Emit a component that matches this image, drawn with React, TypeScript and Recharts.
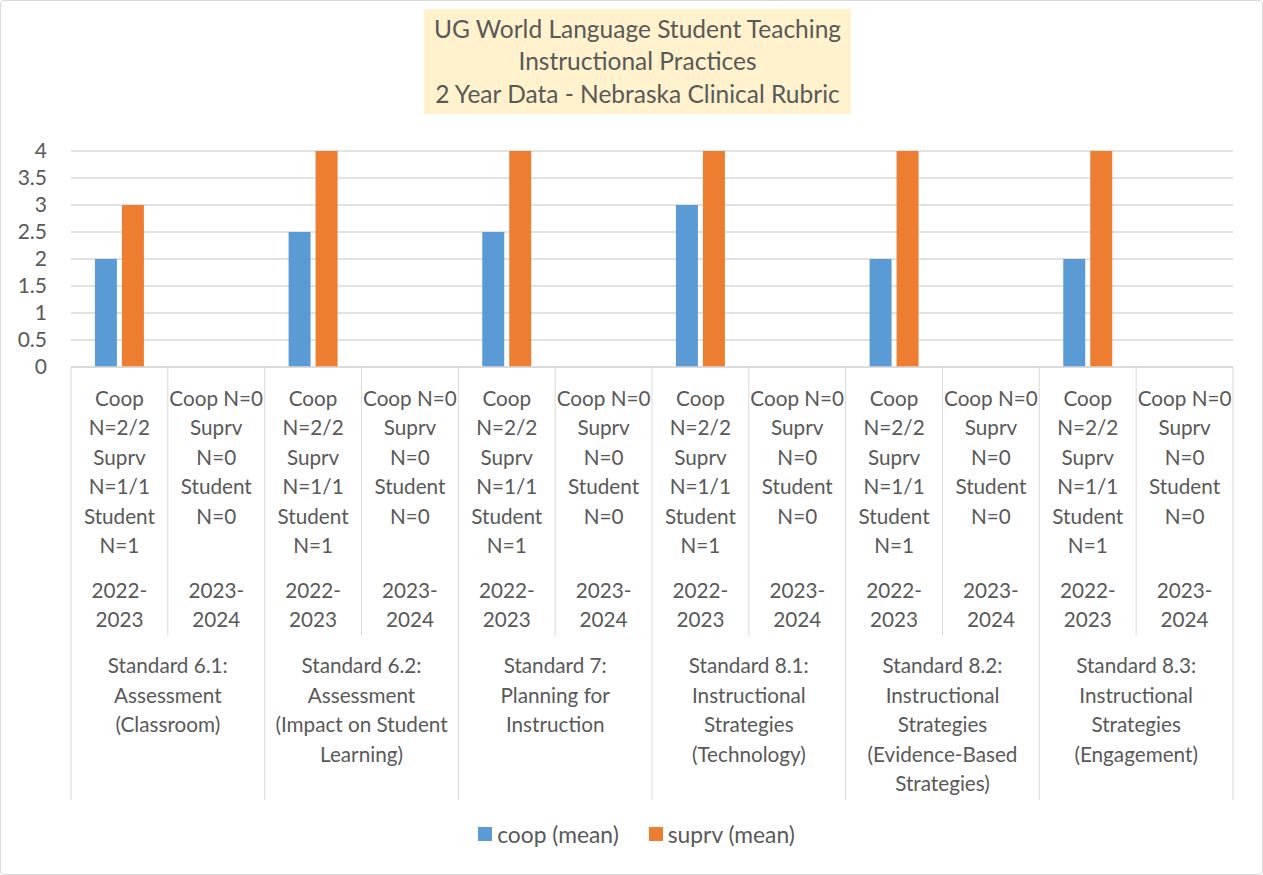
import { BarChart, Bar, XAxis, YAxis, CartesianGrid, Legend } from 'recharts';

const groups = [
  ['Standard 6.1:', 'Assessment', '(Classroom)'],
  ['Standard 6.2:', 'Assessment', '(Impact on Student', 'Learning)'],
  ['Standard 7:', 'Planning for', 'Instruction'],
  ['Standard 8.1:', 'Instructional', 'Strategies', '(Technology)'],
  ['Standard 8.2:', 'Instructional', 'Strategies', '(Evidence-Based', 'Strategies)'],
  ['Standard 8.3:', 'Instructional', 'Strategies', '(Engagement)'],
];
const years = [['2022-', '2023'], ['2023-', '2024']];
const counts = [
  ['Coop', 'N=2/2', 'Suprv', 'N=1/1', 'Student', 'N=1'],
  ['Coop N=0', 'Suprv', 'N=0', 'Student', 'N=0'],
];
const coopMean = [2, null, 2.5, null, 2.5, null, 3, null, 2, null, 2, null];
const suprvMean = [3, null, 4, null, 4, null, 4, null, 4, null, 4, null];
const yTicks = [0, 0.5, 1, 1.5, 2, 2.5, 3, 3.5, 4];

const data = coopMean.map((c, i) => ({
  name: `${groups[Math.floor(i / 2)][0]} ${years[i % 2].join('')}`,
  coop: c,
  suprv: suprvMean[i],
}));

const W = 1263;
const H = 875;
const PLOT_LEFT = 71;
const PLOT_RIGHT = 30;
const BAND = (W - PLOT_LEFT - PLOT_RIGHT) / data.length;
const FONT = 'Lato, "Open Sans", sans-serif';
const TEXT = '#595959';
const LINE = '#d9d9d9';
const TICK_SIZE = 20.7;

function CategoryTick(props: any) {
  const { x, y, index } = props;
  const yr = index % 2;
  const left = x - BAND / 2;
  const lines = counts[yr];
  return (
    <g>
      <line x1={left} y1={y} x2={left} y2={y + (yr === 0 ? 433 : 269)} stroke={LINE} />
      {index === data.length - 1 && (
        <line x1={left + BAND} y1={y} x2={left + BAND} y2={y + 433} stroke={LINE} />
      )}
      {lines.map((t, i) => (
        <text key={i} x={x} y={y + 31 + i * 29.4} textAnchor="middle" dominantBaseline="central"
          fill={TEXT} fontSize={TICK_SIZE} fontFamily={FONT}>{t}</text>
      ))}
      {years[yr].map((t, i) => (
        <text key={'y' + i} x={x} y={y + 223 + i * 29.4} textAnchor="middle" dominantBaseline="central"
          fill={TEXT} fontSize={TICK_SIZE} fontFamily={FONT}>{t}</text>
      ))}
      {yr === 0 && groups[index / 2].map((t, i) => (
        <text key={'g' + i} x={x + BAND / 2} y={y + 298 + i * 29.5} textAnchor="middle" dominantBaseline="central"
          fill={TEXT} fontSize={TICK_SIZE} fontFamily={FONT}>{t}</text>
      ))}
    </g>
  );
}

function LegendContent() {
  const items = [
    { label: 'coop (mean)', color: '#5b9bd5' },
    { label: 'suprv (mean)', color: '#ed7d31' },
  ];
  return (
    <div style={{ display: 'flex', justifyContent: 'center', gap: 30, height: 30, alignItems: 'center', fontFamily: FONT, fontSize: 22.8, color: TEXT, paddingTop: 12, paddingLeft: 10 }}>
      {items.map((it) => (
        <div key={it.label} style={{ display: 'flex', alignItems: 'center' }}>
          <span style={{ display: 'inline-block', width: 14, height: 14, background: it.color, marginRight: 5 }} />
          {it.label}
        </div>
      ))}
    </div>
  );
}

export default function App() {
  return (
    <div style={{ position: 'absolute', left: 0, top: 0, width: W, height: H, background: '#fff', border: `1px solid ${LINE}`, borderRadius: 4, boxSizing: 'border-box' }}>
      <div style={{ position: 'absolute', left: 423, top: 8, width: 427, height: 105, background: '#fff2cc', zIndex: 2,
        display: 'flex', flexDirection: 'column', justifyContent: 'center', alignItems: 'center', fontFamily: FONT, fontSize: 24.5, color: TEXT, lineHeight: '32.5px' }}>
        <div>UG World Language Student Teaching</div>
        <div>Instructional Practices</div>
        <div>2 Year Data - Nebraska Clinical Rubric</div>
      </div>
      <BarChart width={W - 2} height={H - 2} data={data}
        margin={{ top: 150, right: PLOT_RIGHT - 1, left: 0, bottom: 37 }}
        barGap={5} barCategoryGap="24.7%">
        <CartesianGrid vertical={false} stroke={LINE} strokeWidth={1.5} />
        <YAxis width={70} domain={[0, 4]} ticks={yTicks} axisLine={false} tickLine={false}
          tick={{ fill: TEXT, fontSize: 21, fontFamily: FONT }} tickMargin={18} interval={0} />
        <XAxis dataKey="name" height={440} interval={0} tickSize={0} tickMargin={0}
          axisLine={{ stroke: LINE, strokeWidth: 1.5 }} tickLine={false} tick={<CategoryTick />} />
        <Legend verticalAlign="bottom" height={30} content={<LegendContent />} wrapperStyle={{ left: 0, width: W - 2 }} />
        <Bar dataKey="coop" name="coop (mean)" fill="#5b9bd5" isAnimationActive={false} />
        <Bar dataKey="suprv" name="suprv (mean)" fill="#ed7d31" isAnimationActive={false} />
      </BarChart>
    </div>
  );
}
